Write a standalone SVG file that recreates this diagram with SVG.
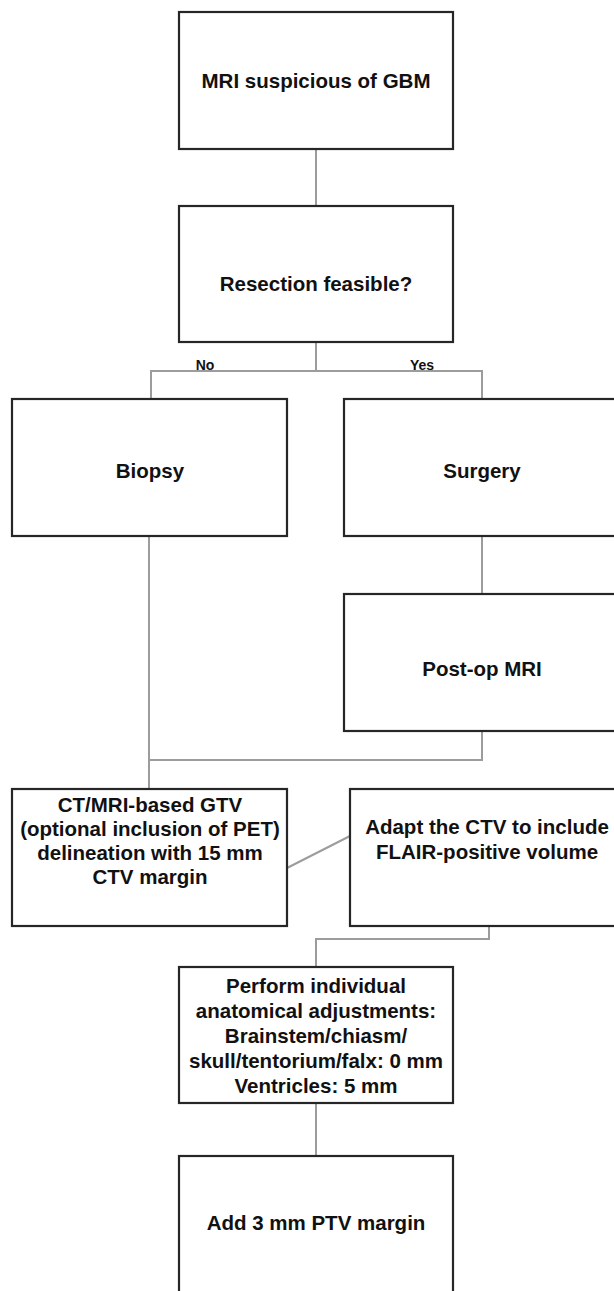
<svg xmlns="http://www.w3.org/2000/svg" width="614" height="1291" viewBox="0 0 614 1291">
<style>
.box{fill:#ffffff;stroke:#262626;stroke-width:2.2}
.t{font-family:"Liberation Sans",Arial,sans-serif;font-weight:bold;font-size:20.5px;fill:#111;text-anchor:middle;dominant-baseline:central}
.lbl{font-family:"Liberation Sans",Arial,sans-serif;font-weight:bold;font-size:14px;fill:#111;text-anchor:middle}
.c{fill:none;stroke:#9c9c9c;stroke-width:2}
</style>
<rect width="614" height="1291" fill="#ffffff"/>
<g id="connectors">
<path class="c" d="M316 149 V206"/>
<path class="c" d="M316 342 V371 M151 399 V371 H482 V399"/>
<path class="c" d="M149 536 V789"/>
<path class="c" d="M482 536 V594"/>
<path class="c" d="M482 731 V760 H149"/>
<path class="c" d="M287 868 L350 836"/>
<path class="c" d="M489 926 V939 H316 V967"/>
<path class="c" d="M316 1103 V1156"/>
<text class="lbl" x="205" y="370">No</text>
<text class="lbl" x="422" y="370">Yes</text>
</g>
<g id="n1"><rect class="box" x="179" y="12" width="274" height="137"/><text class="t" x="316" y="80">MRI suspicious of GBM</text></g>
<g id="n2"><rect class="box" x="179" y="206" width="274" height="136"/><text class="t" x="316" y="283">Resection feasible?</text></g>
<g id="n3"><rect class="box" x="12" y="399" width="275" height="137"/><text class="t" x="150" y="470">Biopsy</text></g>
<g id="n4"><rect class="box" x="344" y="399" width="275" height="137"/><text class="t" x="482" y="470">Surgery</text></g>
<g id="n5"><rect class="box" x="344" y="594" width="275" height="137"/><text class="t" x="482" y="668">Post-op MRI</text></g>
<g id="n6"><rect class="box" x="12" y="789" width="275" height="137"/>
<text class="t" x="150" y="804">CT/MRI-based GTV</text>
<text class="t" x="150" y="828">(optional inclusion of PET)</text>
<text class="t" x="150" y="852">delineation with 15 mm</text>
<text class="t" x="150" y="876">CTV margin</text></g>
<g id="n7"><rect class="box" x="350" y="789" width="275" height="137"/>
<text class="t" x="487" y="826">Adapt the CTV to include</text>
<text class="t" x="487" y="851">FLAIR-positive volume</text></g>
<g id="n8"><rect class="box" x="179" y="967" width="274" height="136"/>
<text class="t" x="316" y="985">Perform individual</text>
<text class="t" x="316" y="1010">anatomical adjustments:</text>
<text class="t" x="316" y="1035">Brainstem/chiasm/</text>
<text class="t" x="316" y="1060">skull/tentorium/falx: 0 mm</text>
<text class="t" x="316" y="1085">Ventricles: 5 mm</text></g>
<g id="n9"><rect class="box" x="179" y="1156" width="274" height="150"/><text class="t" x="316" y="1222">Add 3 mm PTV margin</text></g>
</svg>
